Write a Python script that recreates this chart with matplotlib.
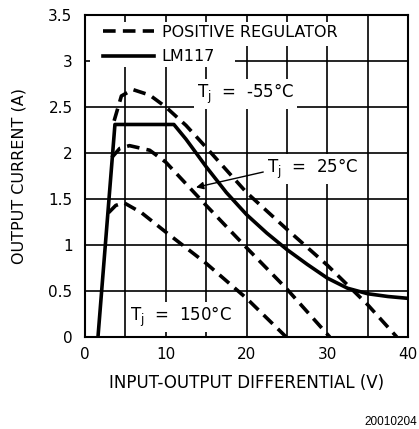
import numpy as np
import matplotlib.pyplot as plt
from matplotlib.patches import Rectangle

# values
lm117_v = [1.6, 3.7, 11.0, 12.5, 15, 17.5, 20, 22.5, 25, 27.5, 30, 32.5, 35, 37.5, 40]
lm117_i = [0.0, 2.31, 2.31, 2.15, 1.85, 1.57, 1.33, 1.13, 0.95, 0.79, 0.64, 0.53, 0.47, 0.44, 0.42]

cold_v = [3.6, 4.5, 5.9, 8, 10, 12.5, 15, 20, 25, 30, 35, 38.6]
cold_i = [2.35, 2.62, 2.69, 2.63, 2.5, 2.3, 2.06, 1.57, 1.17, 0.78, 0.35, 0.0]

room_v = [3.3, 4.3, 5.5, 8, 10, 15, 20, 25, 30.3]
room_i = [1.95, 2.05, 2.08, 2.03, 1.9, 1.43, 0.97, 0.52, 0.0]

hot_v = [2.9, 3.8, 4.8, 7, 10, 15, 20, 24.9]
hot_i = [1.35, 1.43, 1.46, 1.35, 1.14, 0.8, 0.42, 0.0]

xticks = [0, 10, 20, 30, 40]
yticks = [0, 0.5, 1, 1.5, 2, 2.5, 3, 3.5]
series_names = ['POSITIVE REGULATOR', 'LM117']

fig = plt.figure(figsize=(4.19, 4.29), dpi=100)
ax = fig.add_axes([0.203, 0.2145, 0.771, 0.7505])

dash = (0, (3.5, 2))
ax.plot(cold_v, cold_i, color='black', lw=2.6, linestyle=dash, zorder=3)
ax.plot(room_v, room_i, color='black', lw=2.6, linestyle=dash, zorder=3)
ax.plot(hot_v, hot_i, color='black', lw=2.6, linestyle=dash, zorder=3)
ax.plot(lm117_v, lm117_i, color='black', lw=2.6, zorder=3)

ax.set_xlim(0, 40)
ax.set_ylim(0, 3.5)
ax.set_xticks(np.arange(0, 41, 5))
ax.set_xticklabels([str(v) if v in xticks else '' for v in range(0, 41, 5)])
ax.set_yticks(yticks)
ax.set_yticklabels(['0', '0.5', '1', '1.5', '2', '2.5', '3', '3.5'])
ax.tick_params(length=0, labelsize=11, pad=7)
ax.tick_params(axis='y', pad=9)
ax.grid(True, color='black', lw=1.2)
ax.set_axisbelow(True)
for s in ax.spines.values():
    s.set_linewidth(1.5)

ax.set_xlabel('INPUT-OUTPUT DIFFERENTIAL (V)', fontsize=12, labelpad=9)
ax.set_ylabel('OUTPUT CURRENT (A)', fontsize=11.5, labelpad=16)

# white strips behind the legend rows (grid is cut there)
ax.add_patch(Rectangle((0.015, 0.905), 0.785, 0.073, transform=ax.transAxes,
                       facecolor='white', edgecolor='none', zorder=1.5))
ax.add_patch(Rectangle((0.015, 0.84), 0.45, 0.07, transform=ax.transAxes,
                       facecolor='white', edgecolor='none', zorder=1.5))

box = dict(facecolor='white', edgecolor='none', pad=2)
tj = r'T$_\mathregular{j}$'
ax.text(13.9, 2.64, tj + '  =  -55°C', fontsize=12, va='center', bbox=box, zorder=2)
ax.text(22.5, 1.83, tj + '  =  25°C', fontsize=12, va='center', bbox=box, zorder=2)
ax.text(5.6, 0.22, tj + '  =  150°C', fontsize=12, va='center', bbox=box, zorder=2)
ax.annotate('', xy=(13.4, 1.62), xytext=(22.4, 1.8),
            arrowprops=dict(arrowstyle='-|>', color='black', lw=1, mutation_scale=11), zorder=4)

handles = [plt.Line2D([], [], color='black', lw=2.6, linestyle=dash),
           plt.Line2D([], [], color='black', lw=2.6)]
leg = ax.legend(handles=handles, labels=series_names,
                loc='upper left', bbox_to_anchor=(0.025, 1.0), frameon=False,
                fontsize=11.5, handlelength=3.2, handletextpad=0.5, borderpad=0.2,
                labelspacing=0.6, borderaxespad=0.4)
leg.set_zorder(5)

fig.text(0.995, 0.016, '20010204', fontsize=8.5, ha='right', va='center',
         family='Liberation Sans')

fig.savefig('out.png', dpi=100)
